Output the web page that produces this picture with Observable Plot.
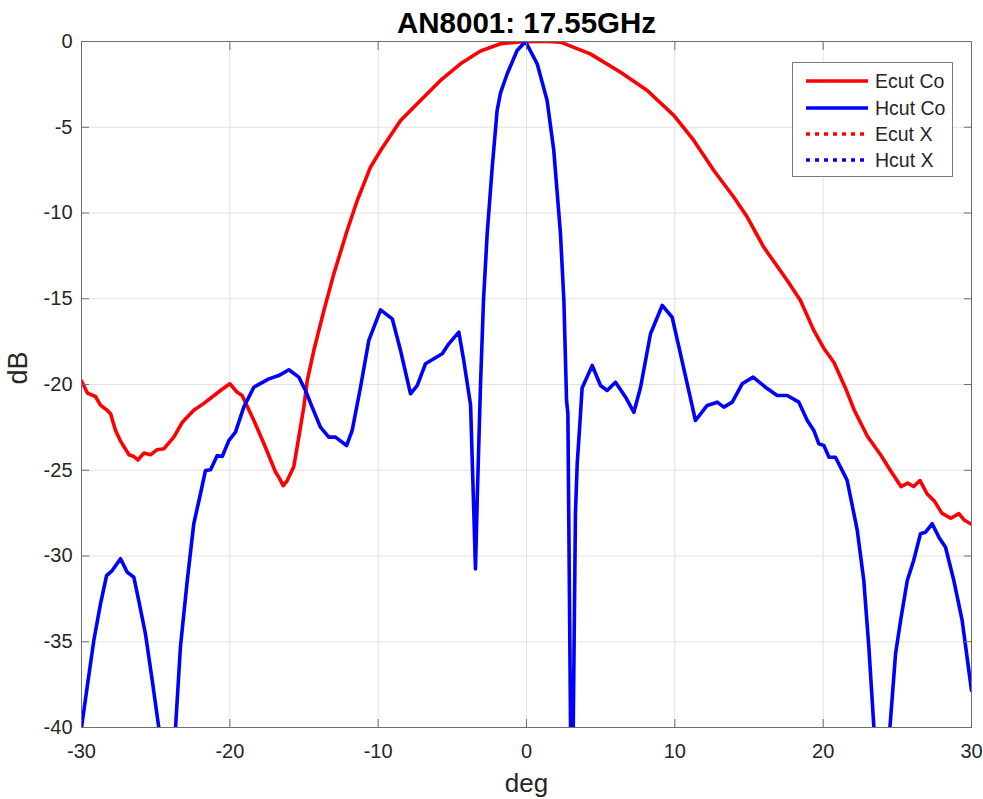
<!DOCTYPE html>
<html>
<head>
<meta charset="utf-8">
<script src="https://cdn.jsdelivr.net/npm/d3@7"></script>
<script src="https://cdn.jsdelivr.net/npm/@observablehq/plot@0.6"></script>
<style>
  body { margin: 0; background: #fff; font-family: "Liberation Sans", Arial, Helvetica, sans-serif; }
  #wrap { position: relative; width: 983px; height: 799px; overflow: hidden; }
  #legend { position: absolute; left: 792px; top: 62px; width: 161px; height: 115px;
            border: 1px solid #7a7a7a; background: #fff; box-sizing: border-box; }
  .row { position: absolute; left: 0; height: 26px; width: 100%; }
  .row svg { position: absolute; left: 12px; top: 0; }
  .row span { position: absolute; left: 82px; top: 2px; font-size: 19.5px; line-height: 22px; color: #262626; }
</style>
</head>
<body>
<div id="wrap">
  <div id="chart"></div>
  <div id="legend"></div>
</div>
<script>
const title = "AN8001: 17.55GHz";
const xLabel = "deg";
const yLabel = "dB";
const xTicks = [-30, -20, -10, 0, 10, 20, 30];
const yTicks = [-40, -35, -30, -25, -20, -15, -10, -5, 0];

const seriesNames = ["Ecut Co", "Hcut Co", "Ecut X", "Hcut X"];
const seriesColors = ["#ff0000", "#0000ff", "#ff0000", "#0000ff"];
const seriesDashed = [false, false, true, true];

// Ecut Co
const ecutDeg = [-30, -29.6, -29.06, -28.72, -28.27, -28.04, -27.7, -27.37, -26.8, -26.47, -26.2, -25.8, -25.35, -24.9, -24.45,
  -23.78, -23.2, -22.43, -21.75, -21.3, -20.63, -20.0, -19.5, -19.17, -18.38, -17.7, -16.92, -16.7, -16.4, -16.13, -15.69,
  -15.35, -15.01, -14.78, -14.34, -13.66, -12.99, -12.09, -11.41, -10.52, -9.84, -8.49, -7.15, -5.8, -4.45, -3.1, -1.75,
  -0.5, 0.5, 1.5, 2.3, 4.3, 6.34, 8.14, 9.93, 11.28, 12.63, 13.98, 14.88, 16.0, 17.58, 18.47, 19.37, 20.05, 20.72, 21.5,
  22.1, 22.97, 23.87, 24.6, 25.25, 25.7, 26.1, 26.53, 27.0, 27.5, 28.0, 28.6, 29.15, 29.5, 30.0];
const ecutDb = [-19.8, -20.5, -20.7, -21.2, -21.5, -21.7, -22.7, -23.3, -24.1, -24.2, -24.4, -24.0, -24.1, -23.8, -23.75,
  -23.07, -22.2, -21.5, -21.1, -20.8, -20.35, -19.96, -20.45, -20.64, -22.1, -23.46, -25.1, -25.4, -25.9, -25.6, -24.8,
  -23.07, -21.3, -19.77, -18.02, -15.69, -13.55, -11.02, -9.27, -7.33, -6.36, -4.61, -3.44, -2.27, -1.3, -0.55, -0.13,
  -0.02, 0, 0, -0.04, -0.72, -1.79, -2.86, -4.31, -5.77, -7.52, -9.08, -10.24, -12.0, -13.94, -15.1, -16.85, -17.9, -18.7, -20.2,
  -21.5, -23.0, -24.1, -25.1, -25.95, -25.75, -25.95, -25.6, -26.37, -26.8, -27.5, -27.8, -27.53, -27.9, -28.15];

// Hcut Co
const hcutDeg = [-30, -29.62, -29.17, -28.72, -28.31, -27.93, -27.37, -26.92, -26.47, -26.14, -25.69, -25.23, -24.79, -24.2,
  -23.66, -23.33, -22.87, -22.43, -21.98, -21.64, -21.3, -20.85, -20.51, -20.07, -19.62, -19.06, -18.38, -17.37, -16.7,
  -16.02, -15.35, -14.9, -14.45, -13.89, -13.33, -12.88, -12.13, -11.75, -11.19, -10.63, -9.84, -9.05, -8.49, -7.82, -7.37,
  -6.81, -6.25, -5.68, -5.24, -4.56, -4.23, -3.77, -3.55, -3.44, -3.3, -3.1, -2.9, -2.65, -2.31, -1.98, -1.75, -1.3, -0.63,
  -0.07, 0.72, 1.39, 1.84, 2.29, 2.52, 2.7, 2.79, 2.97, 3.05, 3.15, 3.3, 3.42, 3.59, 3.75, 4.43, 4.99, 5.44, 6.0, 6.68, 7.24,
  7.69, 8.36, 9.15, 9.82, 10.38, 11.39, 12.18, 12.86, 13.3, 13.87, 14.54, 15.28, 16.11, 16.9, 17.58, 18.36, 18.93, 19.37,
  19.71, 20.05, 20.39, 20.83, 21.51, 21.62, 22.3, 22.74, 23.08, 23.42, 24.0, 24.5, 24.88, 25.22, 25.67, 26.1, 26.56, 26.9,
  27.35, 27.8, 28.25, 28.81, 29.37, 30.0];
const hcutDb = [-40, -37.65, -34.93, -32.79, -31.14, -30.85, -30.16, -30.94, -31.24, -32.6, -34.54, -37.26, -40, -44,
  -40, -35.3, -31.43, -28.12, -26.37, -25.01, -24.97, -24.14, -24.2, -23.27, -22.78, -21.32, -20.16, -19.67, -19.48,
  -19.14, -19.57, -20.35, -21.32, -22.49, -23.07, -23.07, -23.56, -22.68, -20.16, -17.43, -15.65, -16.17, -18.02, -20.54, -20.06,
  -18.79, -18.5, -18.21, -17.63, -16.95, -18.6, -21.2, -27.5, -30.75, -26.0, -20.0, -15.1, -11.2, -7.33, -4.02, -3.0, -1.88, -0.52,
  0, -1.3, -3.44, -6.36, -11.2, -15.1, -20.93, -21.7, -40, -50, -40, -27.5, -24.6, -22.4, -20.2, -18.89, -20.06, -20.35, -19.87, -20.74, -21.62,
  -20.16, -17.04, -15.39, -16.08, -18.21, -22.1, -21.22, -21.03, -21.32, -21.03, -19.96, -19.57, -20.16, -20.64, -20.64, -21.03, -22.1, -22.68,
  -23.46, -23.56, -24.24, -24.24, -25.4, -25.6, -28.51, -31.43, -35.32, -40, -46, -40, -35.7, -33.76, -31.43, -30.26, -28.7, -28.61,
  -28.12, -28.9, -29.49, -31.43, -33.76, -37.84];

const ecut = ecutDeg.map((d, i) => ({deg: d, db: ecutDb[i]}));
const hcut = hcutDeg.map((d, i) => ({deg: d, db: hcutDb[i]}));

const fmt = d => `${d}`;
const chart = Plot.plot({
  width: 983,
  height: 799,
  marginLeft: 81,
  marginRight: 12,
  marginTop: 41,
  marginBottom: 72,
  x: {domain: [-30, 30]},
  y: {domain: [-40, 0]},
  style: {fontFamily: '"Liberation Sans", Arial, Helvetica, sans-serif', fontSize: "20px", color: "#262626", background: "#fff", overflow: "visible"},
  marks: [
    Plot.gridX(xTicks, {stroke: "#e2e2e2", strokeOpacity: 1, strokeWidth: 1}),
    Plot.gridY(yTicks, {stroke: "#e2e2e2", strokeOpacity: 1, strokeWidth: 1}),
    Plot.line(ecut, {x: "deg", y: "db", stroke: seriesColors[0], strokeWidth: 3.6, clip: true, curve: "linear"}),
    Plot.line(hcut, {x: "deg", y: "db", stroke: seriesColors[1], strokeWidth: 3.6, clip: true, curve: "linear"}),
    Plot.frame({stroke: "#6e6e6e", strokeWidth: 1}),
    Plot.axisX(xTicks, {anchor: "bottom", tickSize: -8, tickPadding: 24, tickFormat: fmt, label: null, fontSize: 20, stroke: "#6e6e6e", fill: "#262626"}),
    Plot.axisX(xTicks, {anchor: "top", tickSize: -8, tickFormat: () => "", label: null, stroke: "#6e6e6e"}),
    Plot.axisY(yTicks, {anchor: "left", tickSize: -8, tickPadding: 17, tickFormat: fmt, label: null, fontSize: 20, stroke: "#6e6e6e", fill: "#262626"}),
    Plot.axisY(yTicks, {anchor: "right", tickSize: -8, tickFormat: () => "", label: null, stroke: "#6e6e6e"}),
    Plot.text([title], {text: d => d, frameAnchor: "top", lineAnchor: "bottom", dy: -9, fontSize: 29.5, fontWeight: "bold", fill: "#000"}),
    Plot.text([xLabel], {text: d => d, frameAnchor: "bottom", lineAnchor: "bottom", dy: 64, fontSize: 26, fill: "#262626"}),
    Plot.text([yLabel], {text: d => d, frameAnchor: "left", rotate: -90, dx: -63.5, fontSize: 27, fill: "#262626"})
  ]
});
document.getElementById("chart").appendChild(chart);

// legend
const legend = document.getElementById("legend");
const rowTops = [5, 32, 58, 84];
seriesNames.forEach((name, i) => {
  const row = document.createElement("div");
  row.className = "row";
  row.style.top = rowTops[i] + "px";
  const dash = seriesDashed[i] ? 'stroke-dasharray="4 5"' : "";
  row.innerHTML = `<svg width="64" height="26"><line x1="1" x2="63" y1="13" y2="13" stroke="${seriesColors[i]}" stroke-width="3.6" ${dash}/></svg><span>${name}</span>`;
  legend.appendChild(row);
});
</script>
</body>
</html>
